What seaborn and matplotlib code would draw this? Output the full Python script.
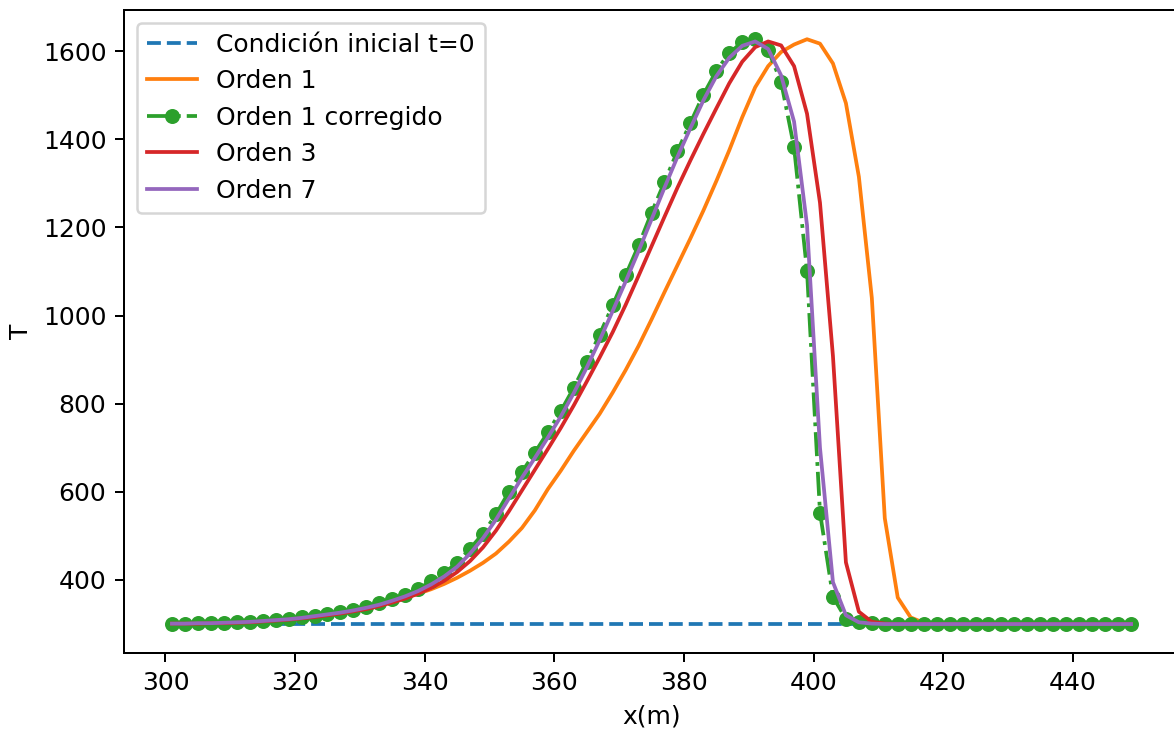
import numpy as np
import pandas as pd
import matplotlib
matplotlib.use("Agg")
import matplotlib.pyplot as plt
import seaborn as sns

# Spatial grid (m)
x_m = np.arange(301, 450, 2)

# Temperature profiles T(x)
t_inicial = [300] * 75

orden_1 = [300, 300, 301, 301, 302, 303, 304, 305, 307, 309,
           312, 316, 321, 327, 333, 339, 345, 352, 360, 369,
           379, 391, 405, 421, 439, 460, 487, 518, 558, 606,
           648, 693, 735, 777, 825, 876, 931, 991, 1053, 1114,
           1175, 1238, 1305, 1375, 1450, 1518, 1566, 1598, 1615, 1627,
           1617, 1572, 1482, 1315, 1040, 540, 360, 315, 303, 300,
           300, 300, 300, 300, 300, 300, 300, 300, 300, 300,
           300, 300, 300, 300, 300]

orden_1_corregido = [301, 301, 302, 302, 303, 304, 305, 307, 309, 312,
                     315, 319, 323, 327, 333, 339, 347, 357, 367, 380,
                     397, 416, 439, 471, 505, 549, 600, 645, 689, 735,
                     783, 836, 895, 957, 1023, 1091, 1159, 1233, 1303, 1373,
                     1437, 1501, 1555, 1596, 1620, 1627, 1602, 1530, 1382, 1101,
                     553, 362, 312, 304, 302, 300, 300, 300, 300, 300,
                     300, 300, 300, 300, 300, 300, 300, 300, 300, 300,
                     300, 300, 300, 300, 300]

orden_3 = [301, 301, 301, 302, 302, 303, 304, 306, 308, 310,
           313, 316, 320, 324, 329, 334, 341, 349, 358, 369,
           382, 398, 418, 443, 474, 512, 556, 603, 650, 697,
           745, 796, 850, 905, 962, 1024, 1090, 1157, 1224, 1290,
           1352, 1412, 1470, 1527, 1576, 1609, 1622, 1613, 1566, 1458,
           1256, 908, 440, 328, 305, 301, 300, 300, 300, 300,
           300, 300, 300, 300, 300, 300, 300, 300, 300, 300,
           300, 300, 300, 300, 300]

orden_7 = [301, 301, 302, 302, 303, 304, 305, 307, 309, 311,
           314, 318, 322, 326, 331, 337, 344, 353, 363, 375,
           390, 408, 430, 460, 495, 537, 585, 632, 677, 723,
           771, 824, 882, 944, 1010, 1077, 1146, 1218, 1290, 1360,
           1425, 1488, 1543, 1585, 1612, 1622, 1605, 1545, 1440, 1205,
           700, 395, 320, 304, 301, 300, 300, 300, 300, 300,
           300, 300, 300, 300, 300, 300, 300, 300, 300, 300,
           300, 300, 300, 300, 300]

df = pd.DataFrame({
    "x": x_m,
    "inicial": t_inicial,
    "o1": orden_1,
    "o1c": orden_1_corregido,
    "o3": orden_3,
    "o7": orden_7,
})

DPI = 180
fig = plt.figure(figsize=(1174 / DPI, 729 / DPI), dpi=DPI)
ax = fig.add_axes([124 / 1174, 1 - 653.3 / 729, 1055 / 1174, (653.3 - 10) / 729])

sns.lineplot(data=df, x="x", y="inicial", ax=ax, color="tab:blue",
             linestyle="--", label="Condición inicial t=0")
sns.lineplot(data=df, x="x", y="o1", ax=ax, color="tab:orange",
             label="Orden 1")
sns.lineplot(data=df, x="x", y="o1c", ax=ax, color="tab:green",
             linestyle="-.", marker="o", markersize=6, markeredgewidth=0,
             label="Orden 1 corregido")
sns.lineplot(data=df, x="x", y="o3", ax=ax, color="tab:red",
             label="Orden 3")
sns.lineplot(data=df, x="x", y="o7", ax=ax, color="tab:purple",
             label="Orden 7")

ax.set_xlabel("x(m)")
ax.set_ylabel("T")
ax.legend(loc="upper left")

fig.savefig("out.png", dpi=DPI)
